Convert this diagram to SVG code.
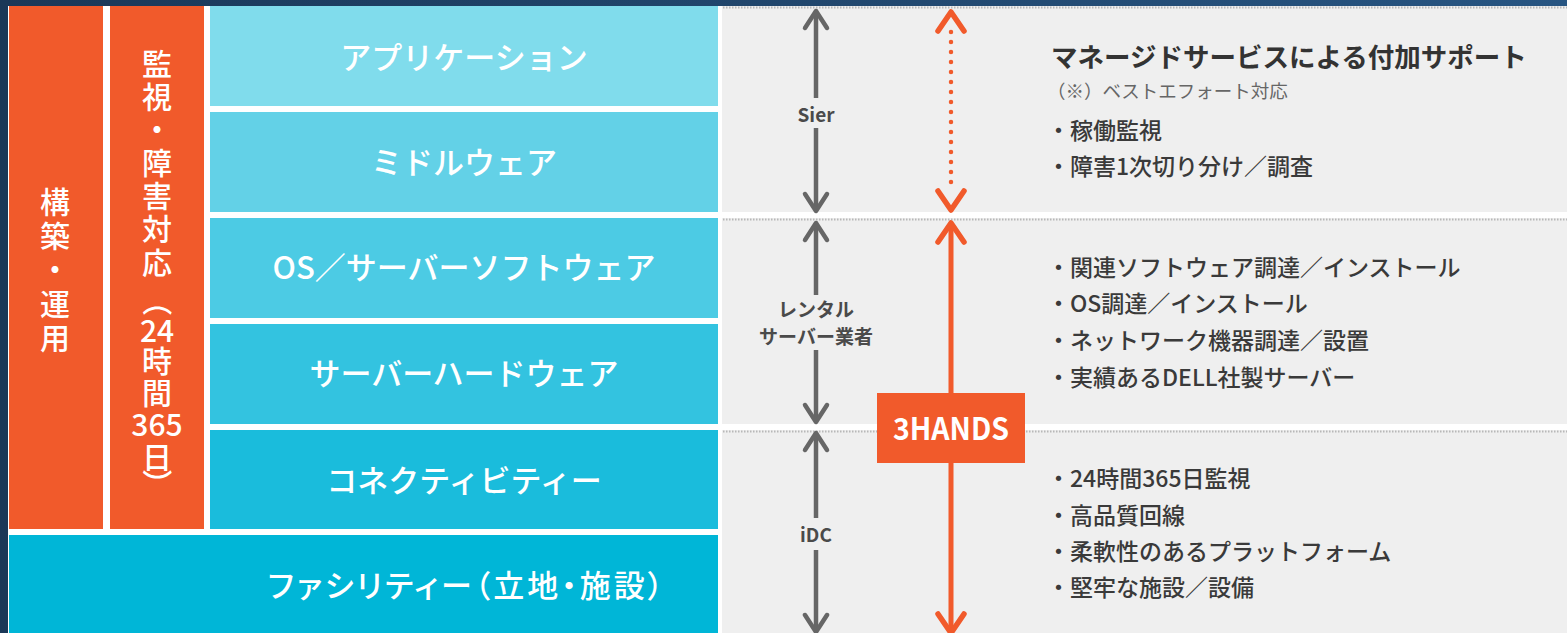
<svg xmlns="http://www.w3.org/2000/svg" xmlns:xlink="http://www.w3.org/1999/xlink" width="1567" height="633" viewBox="0 0 1567 633">
<style>
.jp{font-family:"Noto Sans CJK JP","Noto Sans",sans-serif;}
.lbl{font-size:31px;fill:#fff;font-weight:500;text-anchor:middle;}
.vt{font-size:30px;fill:#fff;font-weight:500;text-anchor:middle;}
.ar{fill:none;stroke:#666;stroke-width:4.5;}
.ao{fill:none;stroke:#f15a2b;stroke-width:5;}
.who{font-size:19px;font-weight:700;fill:#4a4a4a;text-anchor:middle;}
.dot{fill:none;stroke:#b8b8b8;stroke-width:2;stroke-dasharray:1.5 1.5;}
.bl{font-size:23px;fill:#3a3a3a;font-weight:500;}
</style>
<defs>
<linearGradient id="bg" x1="0" y1="0" x2="1" y2="0">
<stop offset="0" stop-color="#1b3858"/>
<stop offset="1" stop-color="#275582"/>
</linearGradient>
<path id="chG" d="M-11,18 L0,1 L11,18" fill="none" stroke="#666" stroke-width="4.5" stroke-linecap="round" stroke-linejoin="round"/>
<path id="chO" d="M-13,20 L0,1 L13,20" fill="none" stroke="#f15a2b" stroke-width="5.5" stroke-linecap="round" stroke-linejoin="round"/>
</defs>
<rect x="0" y="0" width="1567" height="633" fill="url(#bg)"/>
<rect x="8" y="6" width="1559" height="627" fill="#ffffff"/>
<g id="panel">
<rect x="722" y="6" width="845" height="206" fill="#efefef"/>
<rect x="722" y="218" width="845" height="206" fill="#efefef"/>
<rect x="722" y="430" width="845" height="203" fill="#efefef"/>
<line class="dot" x1="723" y1="7.5" x2="1567" y2="7.5"/>
<line class="dot" x1="723" y1="219.5" x2="1567" y2="219.5"/>
<line class="dot" x1="723" y1="431.5" x2="1567" y2="431.5"/>
</g>
<g id="build-ops">
<rect x="9" y="6" width="94" height="523" fill="#f15a2b"/>
<text class="jp vt"><tspan x="55" y="213">構</tspan><tspan x="55" y="247">築</tspan><tspan x="55" y="281">・</tspan><tspan x="55" y="315">運</tspan><tspan x="55" y="349">用</tspan></text>
</g>
<g id="monitoring">
<rect x="110" y="6" width="94" height="523" fill="#f15a2b"/>
<text class="jp vt"><tspan x="157" y="75">監</tspan><tspan x="157" y="108">視</tspan><tspan x="157" y="141">・</tspan><tspan x="157" y="174">障</tspan><tspan x="157" y="207">害</tspan><tspan x="157" y="240">対</tspan><tspan x="157" y="274">応</tspan><tspan x="157" y="342">24</tspan><tspan x="157" y="372">時</tspan><tspan x="157" y="404">間</tspan><tspan x="157" y="436">365</tspan><tspan x="157" y="468">日</tspan></text>
<text class="jp vt" x="157" y="312" transform="rotate(90 157 301)">（</text>
<text class="jp vt" x="157" y="495" transform="rotate(90 157 484)">）</text>
</g>
<g id="application">
<rect x="210" y="6" width="508" height="100" fill="#80dcec"/>
<text class="jp lbl" x="464" y="69">アプリケーション</text>
</g>
<g id="middleware">
<rect x="210" y="112" width="508" height="100" fill="#63d1e7"/>
<text class="jp lbl" x="464" y="174">ミドルウェア</text>
</g>
<g id="os">
<rect x="210" y="218" width="508" height="100" fill="#4ccbe4"/>
<text class="jp lbl" x="464" y="279">OS／サーバーソフトウェア</text>
</g>
<g id="hardware">
<rect x="210" y="324" width="508" height="100" fill="#33c3e0"/>
<text class="jp lbl" x="464" y="385">サーバーハードウェア</text>
</g>
<g id="connectivity">
<rect x="210" y="430" width="508" height="99" fill="#1abcdc"/>
<text class="jp lbl" x="464" y="492">コネクティビティー</text>
</g>
<g id="facility">
<rect x="9" y="535" width="709" height="98" fill="#00b6d7"/>
<text class="jp lbl" x="467" y="597" style="font-feature-settings:'palt';letter-spacing:3px">ファシリティー（立地・施設）</text>
</g>
<g id="connectors">
<line class="ar" x1="816" y1="13" x2="816" y2="98"/>
<line class="ar" x1="816" y1="128" x2="816" y2="209"/>
<use xlink:href="#chG" transform="translate(816,10)"/>
<use xlink:href="#chG" transform="translate(816,212) scale(1,-1)"/>
<line class="ar" x1="816" y1="225" x2="816" y2="295"/>
<line class="ar" x1="816" y1="350" x2="816" y2="420"/>
<use xlink:href="#chG" transform="translate(816,222)"/>
<use xlink:href="#chG" transform="translate(816,423) scale(1,-1)"/>
<line class="ar" x1="816" y1="435" x2="816" y2="518"/>
<line class="ar" x1="816" y1="550" x2="816" y2="630"/>
<use xlink:href="#chG" transform="translate(816,432)"/>
<use xlink:href="#chG" transform="translate(816,633) scale(1,-1)"/>
<line x1="951" y1="32" x2="951" y2="192" stroke="#f15a2b" stroke-width="4.5" stroke-linecap="round" stroke-dasharray="0 10"/>
<use xlink:href="#chO" transform="translate(951,11)"/>
<use xlink:href="#chO" transform="translate(951,211) scale(1,-1)"/>
<line class="ao" x1="951" y1="225" x2="951" y2="393"/>
<use xlink:href="#chO" transform="translate(951,222)"/>
<line class="ao" x1="951" y1="463" x2="951" y2="631"/>
<use xlink:href="#chO" transform="translate(951,634) scale(1,-1)"/>
</g>
<g id="labels">
<text class="jp who" x="816" y="122">Sier</text>
<text class="jp who" x="816" y="317">レンタル</text>
<text class="jp who" x="816" y="344">サーバー業者</text>
<text class="jp who" x="816" y="542">iDC</text>
</g>
<g id="threehands">
<rect x="877" y="393" width="148" height="70" fill="#f15a2b"/>
<text class="jp" x="951" y="440" font-size="31" font-weight="700" fill="#fff" text-anchor="middle" textLength="116" lengthAdjust="spacingAndGlyphs">3HANDS</text>
</g>
<g id="managed">
<text class="jp" x="1051" y="67" font-size="26.5" font-weight="700" fill="#333">マネージドサービスによる付加サポート</text>
<text class="jp" x="1047" y="98" font-size="18.5" fill="#666">（※）ベストエフォート対応</text>
<text class="jp bl" x="1047" y="139">・稼働監視</text>
<text class="jp bl" x="1047" y="175">・障害1次切り分け／調査</text>
</g>
<g id="server-items">
<text class="jp bl" x="1047" y="276">・関連ソフトウェア調達／インストール</text>
<text class="jp bl" x="1047" y="312">・OS調達／インストール</text>
<text class="jp bl" x="1047" y="349">・ネットワーク機器調達／設置</text>
<text class="jp bl" x="1047" y="386">・実績あるDELL社製サーバー</text>
</g>
<g id="idc-items">
<text class="jp bl" x="1047" y="487">・24時間365日監視</text>
<text class="jp bl" x="1047" y="524">・高品質回線</text>
<text class="jp bl" x="1047" y="560">・柔軟性のあるプラットフォーム</text>
<text class="jp bl" x="1047" y="596">・堅牢な施設／設備</text>
</g>
</svg>
